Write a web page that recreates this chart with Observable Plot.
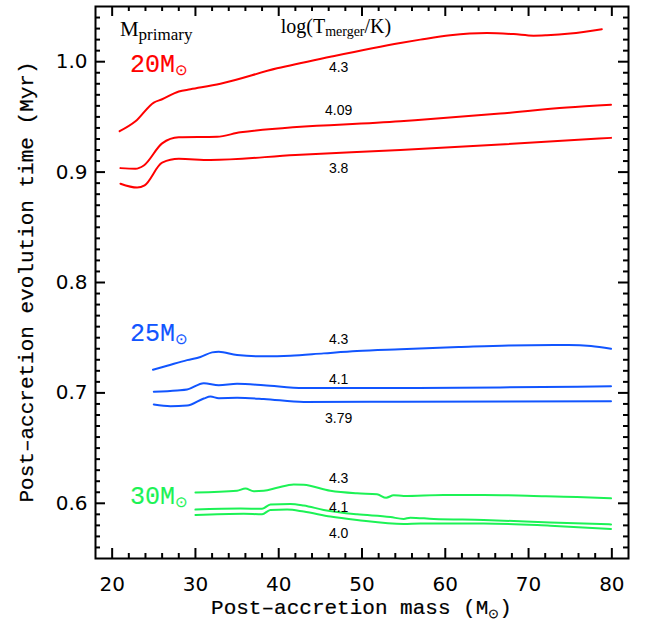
<!DOCTYPE html>
<html><head><meta charset="utf-8">
<script src="https://cdn.jsdelivr.net/npm/d3@7"></script>
<script src="https://cdn.jsdelivr.net/npm/@observablehq/plot@0.6"></script>
<style>body{margin:0;background:#fff}#chart svg{display:block}</style>
</head><body><div id="chart"></div>
<script>
// ---- tick labels ----
const xTicks = [20, 30, 40, 50, 60, 70, 80];
const yTicks = [0.6, 0.7, 0.8, 0.9, 1.0];

// ---- colours per primary mass ----
const massNames = ["20", "25", "30"];
const massColors = ["#ff0000", "#1155ff", "#1cf255"];

// ---- 20 Msun curves ----
const r43X = [20.9, 22.8, 25.0, 26.0, 28.0, 29.4, 33.0, 39.8, 46.2, 54.6, 57.0, 60.6, 65.0, 68.2, 70.6, 72.2, 75.0, 78.8];
const r43Y = [0.937, 0.946, 0.963, 0.966, 0.973, 0.975, 0.980, 0.994, 1.0045, 1.017, 1.020, 1.024, 1.026, 1.025, 1.0236, 1.024, 1.0255, 1.0294];
const r409X = [21.0, 22.8, 23.8, 26.0, 28.0, 32.6, 35.4, 54.6, 66.6, 74.6, 79.9];
const r409Y = [0.9036, 0.903, 0.906, 0.926, 0.9315, 0.932, 0.936, 0.946, 0.953, 0.9585, 0.961];
const r38X = [21.0, 23.0, 23.9, 26.0, 28.0, 31.8, 42.0, 54.6, 66.6, 79.9];
const r38Y = [0.8895, 0.886, 0.888, 0.9085, 0.912, 0.911, 0.9155, 0.920, 0.925, 0.931];

// ---- 25 Msun curves ----
const b43X = [24.9, 26.6, 29.0, 30.6, 32.0, 32.8, 35.0, 38.2, 41.4, 45.4, 49.4, 54.6, 61.6, 67.6, 74.8, 77.5, 79.9];
const b43Y = [0.721, 0.7246, 0.7297, 0.7325, 0.7367, 0.7373, 0.7343, 0.7331, 0.7336, 0.7358, 0.7379, 0.7395, 0.7415, 0.743, 0.7434, 0.7425, 0.740];
const b41X = [25.0, 27.8, 29.0, 31.0, 32.8, 35.0, 38.2, 43.0, 54.6, 66.6, 79.9];
const b41Y = [0.701, 0.7022, 0.703, 0.7088, 0.707, 0.7082, 0.707, 0.7045, 0.7045, 0.705, 0.706];
const b379X = [25.0, 27.0, 29.0, 31.0, 31.8, 32.8, 35.0, 38.2, 43.0, 54.6, 79.9];
const b379Y = [0.6895, 0.688, 0.6885, 0.6949, 0.6967, 0.6952, 0.6955, 0.6945, 0.6918, 0.692, 0.6925];

// ---- 30 Msun curves ----
const g43X = [30.0, 35.0, 36.0, 37.0, 38.2, 39.8, 41.8, 43.0, 46.2, 49.4, 51.8, 52.9, 53.8, 55.0, 59.8, 64.6, 70.6, 75.8, 79.9];
const g43Y = [0.6097, 0.6113, 0.6134, 0.611, 0.6113, 0.614, 0.617, 0.6167, 0.6113, 0.609, 0.6082, 0.605, 0.6073, 0.6067, 0.6076, 0.6076, 0.6067, 0.6058, 0.6045];
const g41X = [30.0, 35.4, 38.0, 39.0, 41.4, 43.0, 45.4, 49.4, 53.4, 55.0, 55.8, 58.6, 64.6, 72.6, 79.9];
const g41Y = [0.5943, 0.5952, 0.595, 0.599, 0.5994, 0.598, 0.594, 0.590, 0.5876, 0.5858, 0.587, 0.5858, 0.5849, 0.5827, 0.5809];
const g40X = [30.0, 35.8, 38.0, 39.0, 41.0, 43.0, 46.2, 49.4, 55.0, 57.0, 64.6, 72.6, 79.9];
const g40Y = [0.5894, 0.5906, 0.590, 0.594, 0.5943, 0.5925, 0.588, 0.5849, 0.5812, 0.5818, 0.5818, 0.5797, 0.5767];

// ---- curve value labels ----
const curveLabelText = ["4.3", "4.09", "3.8", "4.3", "4.1", "3.79", "4.3", "4.1", "4.0"];
const curveLabelX = [47.2, 47.2, 47.2, 47.2, 47.2, 47.2, 47.2, 47.2, 47.2];
const curveLabelY = [0.995, 0.956, 0.903, 0.748, 0.712, 0.677, 0.622, 0.5964, 0.5722];

// ---- mass labels (baseline positions) ----
const massLabelX = [22.2, 22.2, 22.2];
const massLabelY = [0.9906, 0.747, 0.599];

const curves = [
  {m: 0, x: r43X, y: r43Y}, {m: 0, x: r409X, y: r409Y}, {m: 0, x: r38X, y: r38Y},
  {m: 1, x: b43X, y: b43Y}, {m: 1, x: b41X, y: b41Y}, {m: 1, x: b379X, y: b379Y},
  {m: 2, x: g43X, y: g43Y}, {m: 2, x: g41X, y: g41Y}, {m: 2, x: g40X, y: g40Y}
];
const rows = curves.flatMap((c, i) => c.x.map((x, j) => ({id: i, x, y: c.y[j], color: massColors[c.m]})));
const labels = curveLabelText.map((t, i) => ({t, x: curveLabelX[i], y: curveLabelY[i]}));

const W = 646, H = 626, mL = 95, mR = 18, mT = 6, mB = 68;
const fw = W - mL - mR, fh = H - mT - mB;
const xMinor = d3.range(18, 83, 2).filter(d => d % 10 !== 0 && d > 18 && d < 82);
const yMinor = d3.range(56, 105).filter(d => d % 10 !== 0).map(d => d / 100);

const tickStyle = {stroke: "black", strokeWidth: 2};
const plot = Plot.plot({
  width: W, height: H,
  marginLeft: mL, marginRight: mR, marginTop: mT, marginBottom: mB,
  x: {domain: [18, 82]},
  y: {domain: [0.55, 1.05]},
  color: {type: "identity"},
  marks: [
    Plot.line(rows, {x: "x", y: "y", z: "id", stroke: "color", strokeWidth: 2, curve: "monotone-x"}),
    Plot.text(labels, {x: "x", y: "y", text: "t", fontSize: 14, fontFamily: "Liberation Sans", fill: "black"}),
    // inward ticks on all four sides
    Plot.tickX(xTicks, {x: d => d, insetTop: fh - 10, ...tickStyle}),
    Plot.tickX(xTicks, {x: d => d, insetBottom: fh - 10, ...tickStyle}),
    Plot.tickX(xMinor, {x: d => d, insetTop: fh - 5, ...tickStyle}),
    Plot.tickX(xMinor, {x: d => d, insetBottom: fh - 5, ...tickStyle}),
    Plot.tickY(yTicks, {y: d => d, insetRight: fw - 10, ...tickStyle}),
    Plot.tickY(yTicks, {y: d => d, insetLeft: fw - 10, ...tickStyle}),
    Plot.tickY(yMinor, {y: d => d, insetRight: fw - 5, ...tickStyle}),
    Plot.tickY(yMinor, {y: d => d, insetLeft: fw - 5, ...tickStyle}),
    Plot.frame({stroke: "black", strokeWidth: 2}),
    Plot.axisX({ticks: xTicks, anchor: "bottom", tickSize: 0, tickPadding: 18, fontSize: 20, fontFamily: "DejaVu Sans", label: null}),
    Plot.axisY({ticks: yTicks, anchor: "left", tickSize: 0, tickPadding: 8, tickFormat: d3.format(".1f"), fontSize: 20, fontFamily: "DejaVu Sans", label: null})
  ]
});
document.getElementById("chart").appendChild(plot);

const svg = d3.select(plot);
const sx = plot.scale("x"), sy = plot.scale("y");

function subText(x, y, main, sub, o) {
  const t = svg.append("text").attr("x", x).attr("y", y)
    .attr("font-family", o.family).attr("font-size", o.size).attr("fill", o.fill)
    .attr("text-anchor", o.anchor || "start");
  if (o.stroke) t.attr("stroke", o.fill).attr("stroke-width", o.stroke);
  t.append("tspan").text(main);
  t.append("tspan").attr("font-size", o.subSize).attr("dy", o.subDy).text(sub);
  if (o.after) t.append("tspan").attr("dy", -o.subDy).text(o.after);
  return t;
}

// Mass labels
massNames.forEach((m, i) => {
  subText(sx.apply(massLabelX[i]), sy.apply(massLabelY[i]), m + "M", "\u2299",
    {family: "Liberation Mono", size: 25, fill: massColors[i], subSize: 15, subDy: 3, stroke: 0.15});
});
// Column headers
subText(sx.apply(20.99), sy.apply(1.0227), "M", "primary",
  {family: "Liberation Serif", size: 21, fill: "black", subSize: 17, subDy: 4});
subText(sx.apply(40.3), sy.apply(1.0258), "log(T", "merger",
  {family: "Liberation Serif", size: 20, fill: "black", subSize: 14, subDy: 3, after: "/K)"});

// Axis titles
subText(mL + fw / 2, 614, "Post\u2013accretion mass (M", "\u2299",
  {family: "Liberation Mono", size: 21, fill: "black", subSize: 13, subDy: 4, anchor: "middle", after: ")", stroke: 0.2});
svg.append("text").attr("transform", `translate(33,${mT + fh / 2}) rotate(-90)`)
  .attr("text-anchor", "middle").attr("font-family", "Liberation Mono").attr("font-size", 21)
  .attr("fill", "black").attr("stroke", "black").attr("stroke-width", 0.2)
  .text("Post\u2013accretion evolution time (Myr)");
</script></body></html>
